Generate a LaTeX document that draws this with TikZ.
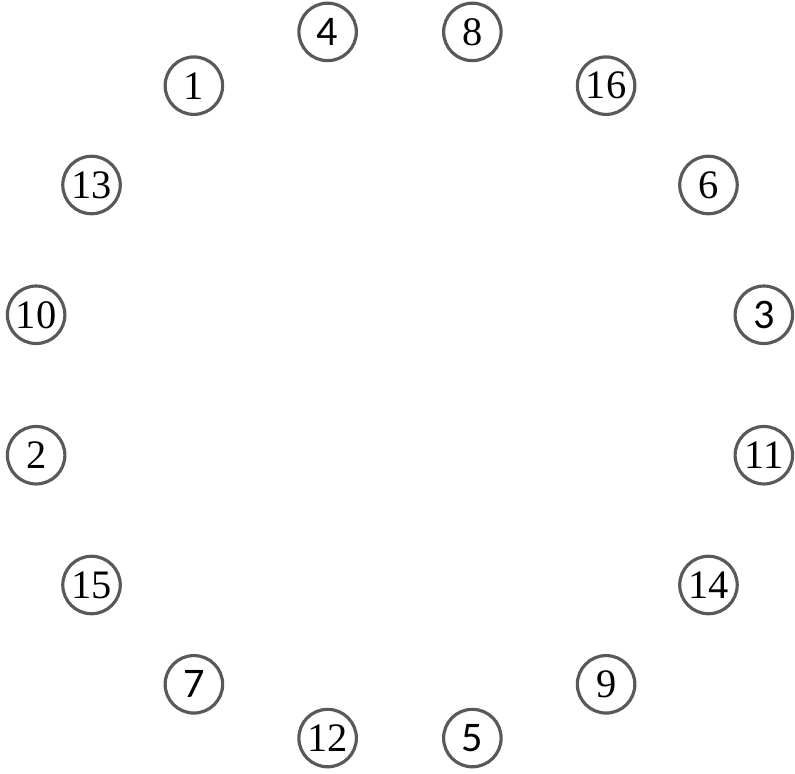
\documentclass[tikz,border=0pt]{standalone}
\usepackage{fontspec}
\setmainfont{Liberation Serif}
\newfontfamily\calfont{Carlito}
\usetikzlibrary{positioning}

\tikzset{
  slot/.style={circle, draw=black!65, line width=1.8pt, minimum size=1.15cm,
    inner sep=0pt, font=\fontsize{23}{27}\selectfont},
  calslot/.style={slot, font=\calfont\fontsize{24}{28}\selectfont}
}

\begin{document}
\begin{tikzpicture}
    \useasboundingbox (-8.0,-7.78) rectangle (7.9,7.7);
    % Sixteen slots round the ring, counter-clockwise from the right
    \foreach \lab/\sty [count=\i from 0] in {3/calslot, 6/slot, 16/slot, 8/slot,
        4/calslot, 1/slot, 13/slot, 10/slot, 2/slot, 15/slot, 7/calslot,
        12/slot, 5/calslot, 9/slot, 14/slot, 11/slot}
        \node[\sty] (n\lab) at ({11.25+22.5*\i}:7.42cm and 7.2cm) {\lab};
\end{tikzpicture}
\end{document}
